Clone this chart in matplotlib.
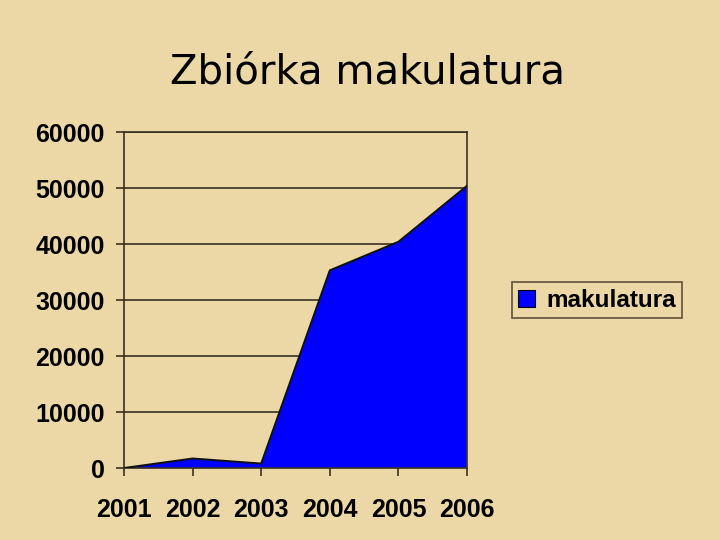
import numpy as np
import matplotlib.pyplot as plt

years = ['2001', '2002', '2003', '2004', '2005', '2006']
makulatura = [0, 1700, 800, 35300, 40400, 50400]
y_ticks = [0, 10000, 20000, 30000, 40000, 50000, 60000]

bg = '#EBD8A6'
line_col = '#3a3020'

fig = plt.figure(figsize=(7.2, 5.4), dpi=100, facecolor=bg)
ax = fig.add_axes([0.1722, 0.1333, 0.4764, 0.6222])
ax.set_facecolor('none')

x = np.arange(len(years))
ax.fill_between(x, makulatura, 0, facecolor='#0000FF', edgecolor='none',
                label='makulatura', zorder=2)
ax.plot(x, makulatura, color='#111111', lw=1.4, zorder=3)

ax.set_xlim(0, len(years) - 1)
ax.set_ylim(0, 60000)
ax.set_yticks(y_ticks)
ax.set_yticklabels([str(v) for v in y_ticks])
ax.set_xticks(x)
ax.set_xticklabels(years)
ax.grid(axis='y', color=line_col, lw=1.2, zorder=1)

for s in ax.spines.values():
    s.set_color(line_col)
    s.set_linewidth(1.2)

for lab in ax.get_xticklabels() + ax.get_yticklabels():
    lab.set_fontfamily('Liberation Sans')
    lab.set_fontweight('bold')
    lab.set_fontsize(18)
ax.tick_params(axis='both', colors=line_col, length=5.5, width=1.2,
               labelcolor='black')
ax.tick_params(axis='x', pad=16)
ax.tick_params(axis='y', pad=8.5)

leg = ax.legend(loc='center left', bbox_to_anchor=(1.131, 0.5),
                frameon=True, fancybox=False, handlelength=0.7,
                handleheight=0.7, handletextpad=0.45, borderpad=0.25,
                borderaxespad=0,
                prop={'family': 'Liberation Sans', 'weight': 'bold', 'size': 17.5})
leg.get_frame().set_edgecolor(line_col)
leg.get_frame().set_facecolor('none')
leg.get_frame().set_linewidth(1.2)
for h in leg.legend_handles:
    h.set_edgecolor('black')
    h.set_linewidth(0.8)

fig.text(367 / 720, 1 - 72 / 540, 'Zbiórka makulatura', ha='center', va='center',
         fontsize=29, fontfamily='DejaVu Sans', color='black')

fig.savefig('out.png', dpi=100, facecolor=bg)
